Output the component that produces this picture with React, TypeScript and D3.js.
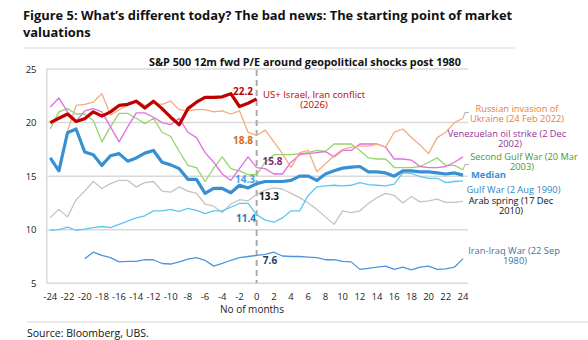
import React from "react";
import * as d3 from "d3";

const months: number[] = d3.range(-24, 25);
const xTickLabels: number[] = [-24, -22, -20, -18, -16, -14, -12, -10, -8, -6, -4, -2, 0, 2, 4, 6, 8, 10, 12, 14, 16, 18, 20, 22, 24];
const yTickLabels: number[] = [5, 10, 15, 20, 25];

type V = number | null;
const usIsraelIran: V[] = [20.0, 20.4, 20.8, 20.1, 20.35, 21.0, 20.6, 21.0, 21.6, 21.7, 22.0, 21.35, 22.0, 21.3, 20.5, 19.8, 21.3, 21.9, 22.35, 22.35, 22.4, 22.7, 21.5, 21.8, 22.2];
const russiaUkraine: V[] = [null, null, 19.2, 21.6, 21.7, 21.9, 22.7, 20.7, 21.2, 21.6, 22.1, 21.6, 21.8, 21.7, 22.0, 21.2, 21.1, 21.2, 21.2, 21.0, 21.1, 20.8, 21.1, 19.1, 18.8, 19.3, 18.2, 17.1, 15.8, 17.2, 17.4, 15.4, 16.15, 16.9, 17.5, 17.7, 17.8, 17.8, 18.0, 17.7, 19.1, 19.4, 18.6, 17.9, 17.1, 18.6, 19.1, 20.0, 20.4];
const venezuela: V[] = [21.45, 22.3, 21.0, 20.1, 21.1, 21.3, 21.0, 19.6, 18.2, 19.6, 20.9, 20.9, 20.5, 20.0, 19.8, 20.4, 19.1, 18.6, 17.2, 16.3, 15.2, 14.6, 15.7, 16.8, 15.8, 15.7, 15.2, 15.2, 16.3, 17.0, 17.1, 17.2, 17.3, 16.8, 17.4, 17.4, 18.0, 18.0, 18.0, 17.7, 16.6, 16.6, 16.5, 15.9, 15.8, 15.8, 15.9, 16.3, 16.8];
const secondGulf: V[] = [19.4, 21.0, 21.3, 20.8, 20.8, 20.2, 18.2, 19.6, 20.85, 20.85, 20.4, 19.9, 20.4, 19.1, 18.7, 17.3, 16.0, 15.8, 14.5, 15.75, 16.8, 15.7, 15.5, 15.15, 15.15, 16.3, 17.0, 17.0, 17.0, 17.1, 17.2, 17.4, 17.3, 18.0, 18.0, 18.0, 17.4, 16.7, 16.6, 16.6, 15.8, 15.8, 15.8, 15.9, 16.3, 16.7, 16.0, 16.0, 15.6];
const median: V[] = [16.7, 15.5, 19.05, 19.4, 17.25, 17.0, 16.0, 16.9, 17.1, 16.4, 16.7, 17.15, 17.4, 16.3, 16.05, 15.7, 14.7, 14.7, 13.4, 13.85, 13.85, 13.45, 14.15, 13.9, 14.3, 14.5, 14.5, 14.5, 14.6, 15.0, 15.0, 14.6, 15.2, 15.5, 15.75, 15.85, 15.9, 15.4, 15.4, 15.3, 15.0, 15.5, 15.5, 15.4, 15.4, 15.3, 15.2, 15.3, 15.1];
const gulfWar: V[] = [9.95, 10.0, 10.25, 9.95, 10.05, 10.2, 10.3, 10.2, 10.5, 10.8, 11.1, 11.3, 11.76, 11.76, 11.9, 11.7, 12.0, 11.8, 11.5, 11.76, 11.76, 12.1, 12.45, 12.45, 11.4, 10.9, 10.7, 11.1, 11.76, 11.76, 13.2, 14.0, 14.1, 14.15, 14.1, 14.15, 14.4, 14.2, 14.15, 14.1, 14.25, 15.3, 15.25, 14.95, 14.8, 14.8, 14.4, 14.5, 14.55];
const arabSpring: V[] = [11.15, 11.9, 11.2, 12.8, 13.6, 14.5, 13.85, 14.3, 14.6, 14.6, 14.0, 14.4, 14.5, 13.6, 13.5, 14.0, 13.6, 13.4, 12.4, 12.2, 11.6, 12.4, 12.8, 12.7, 13.3, 13.7, 13.9, 13.8, 13.4, 13.0, 12.5, 11.9, 11.2, 10.5, 11.76, 11.6, 11.76, 12.45, 13.0, 13.4, 13.2, 12.5, 13.1, 12.6, 12.7, 12.85, 12.55, 12.55, 12.65];
const iranIraq: V[] = [null, null, null, null, 7.3, 7.9, 7.6, 7.4, 7.0, 7.05, 7.05, 7.2, 7.2, 6.85, 6.8, 7.0, 7.25, 7.4, 7.15, 6.6, 6.85, 7.15, 7.4, 7.5, 7.6, 7.7, 7.9, 7.55, 7.5, 7.5, 7.45, 7.4, 7.2, 7.2, 7.05, 7.0, 6.3, 6.4, 6.5, 6.6, 6.3, 6.5, 6.25, 6.5, 6.6, 6.3, 6.35, 6.5, 7.3];

const FONT = "'Open Sans', 'DejaVu Sans', sans-serif";

const x = d3.scaleLinear().domain([-24, 24]).range([50.3, 463]);
const y = d3.scaleLinear().domain([5, 25]).range([283.3, 69]);

const line = d3
  .line<[number, V]>()
  .defined((d) => d[1] !== null)
  .x((d) => x(d[0]))
  .y((d) => y(d[1] as number));

const pathOf = (vals: V[]) => line(vals.map((v, i) => [months[i], v] as [number, V])) || "";

const series = [
  { vals: arabSpring, color: "#c3c3c3", w: 1.3 },
  { vals: gulfWar, color: "#5cc6f2", w: 1.3 },
  { vals: iranIraq, color: "#4f94dc", w: 1.3 },
  { vals: secondGulf, color: "#93d56f", w: 1.3 },
  { vals: venezuela, color: "#e070dc", w: 1.3 },
  { vals: russiaUkraine, color: "#f7aa80", w: 1.3 },
  { vals: median, color: "#3690d2", w: 3.2 },
  { vals: usIsraelIran, color: "#c00000", w: 3.2 },
];

const lastIdx = 48;

export default function App() {
  const gridColor = "#d9d9d9";
  return (
    <svg width={588} height={340} style={{ position: "absolute", left: 0, top: 0 }} fontFamily={FONT}>
      <rect width={588} height={340} fill="#fff" />
      <text x={23} y={20} fontSize={12.9} fontWeight={700} fill="#111">
        Figure 5: What’s different today? The bad news: The starting point of market
      </text>
      <text x={23} y={37} fontSize={12.9} fontWeight={700} fill="#111">
        valuations
      </text>
      <line x1={23} x2={515} y1={48} y2={48} stroke="#d9d9d9" strokeWidth={1} />

      {/* grid */}
      {yTickLabels.map((t) => (
        <g key={t}>
          <line x1={46.7} x2={468} y1={y(t)} y2={y(t)} stroke={gridColor} strokeWidth={1.5} />
          <text x={36.5} y={y(t) + 3.5} fontSize={9.5} textAnchor="end" fill="#222">
            {t}
          </text>
        </g>
      ))}
      <line x1={46.7} x2={46.7} y1={y(25)} y2={y(5)} stroke={gridColor} strokeWidth={1.5} />

      <text x={305} y={66} fontSize={10.8} fontWeight={700} textAnchor="middle" fill="#111">
        S&amp;P 500 12m fwd P/E around geopolitical shocks post 1980
      </text>

      {xTickLabels.map((t) => (
        <text key={t} x={x(t)} y={300} fontSize={9.5} textAnchor="middle" fill="#222">
          {t}
        </text>
      ))}
      <text x={252} y={313} fontSize={10} textAnchor="middle" fill="#222">
        No of months
      </text>

      <line x1={x(0)} x2={x(0)} y1={70} y2={y(5)} stroke="#aaaaaa" strokeWidth={2} strokeDasharray="6,4" />

      {series.map((s, i) => (
        <path key={i} d={pathOf(s.vals)} fill="none" stroke={s.color} strokeWidth={s.w} strokeLinejoin="round" />
      ))}

      {/* leader lines */}
      <polyline
        points={`${x(24)},${y(russiaUkraine[lastIdx] as number)} ${x(24) + 2},${y(20.95)} ${x(24) + 6},${y(20.95)}`}
        fill="none"
        stroke="#aaaaaa"
        strokeWidth={1}
      />
      <polyline
        points={`${x(24)},${y(secondGulf[lastIdx] as number)} ${x(24) + 2},${y(16.1)} ${x(24) + 6},${y(16.1)}`}
        fill="none"
        stroke="#aaaaaa"
        strokeWidth={1}
      />

      {/* value labels */}
      <g fontSize={10} fontWeight={700}>
        <text x={243} y={95} textAnchor="middle" fill="#c00000">{usIsraelIran[24]}</text>
        <text x={243} y={144} textAnchor="middle" fill="#cf6a28">{russiaUkraine[24]}</text>
        <text x={272.5} y={165} textAnchor="middle" fill="#7a2a78">{venezuela[24]}</text>
        <text x={245} y={183} textAnchor="middle" fill="#3fa2e2">{median[24]}</text>
        <text x={269} y={200} textAnchor="middle" fill="#111">{arabSpring[24]}</text>
        <text x={246} y={222} textAnchor="middle" fill="#2a7db5">{gulfWar[24]}</text>
        <text x={270} y={263.5} textAnchor="middle" fill="#1f3f66">{iranIraq[24]}</text>
      </g>

      <g fontSize={9.6} textAnchor="middle">
        <text x={314} y={98} fill="#c00000">US+ Israel, Iran conflict</text>
        <text x={314} y={108.3} fill="#c00000">(2026)</text>
      </g>

      <g fontSize={9.3} textAnchor="middle">
        <text x={517} y={112} fill="#e4803e">Russian invasion of</text>
        <text x={517} y={122} fill="#e4803e">Ukraine (24 Feb 2022)</text>
        <text x={507} y={137} fill="#93338f">Venezuelan oil strike (2 Dec</text>
        <text x={510} y={147} fill="#93338f">2002)</text>
        <text x={524} y={159.5} fill="#4d982c">Second Gulf War (20 Mar</text>
        <text x={522} y={169.5} fill="#4d982c">2003)</text>
        <text x={513.5} y={193} fill="#2d86c0">Gulf War (2 Aug 1990)</text>
        <text x={511} y={203.5} fill="#111">Arab spring (17 Dec</text>
        <text x={511} y={213.5} fill="#111">2010)</text>
        <text x={514} y={254} fill="#3a72a8">Iran-Iraq War (22 Sep</text>
        <text x={515} y={264} fill="#3a72a8">1980)</text>
      </g>
      <text x={471} y={178} fontSize={9.4} fontWeight={700} fill="#3690d2">Median</text>

      <line x1={27} x2={588} y1={322} y2={322} stroke="#d9d9d9" strokeWidth={1} />
      <text x={27} y={337} fontSize={10.5} fill="#111">Source: Bloomberg, UBS.</text>
    </svg>
  );
}
